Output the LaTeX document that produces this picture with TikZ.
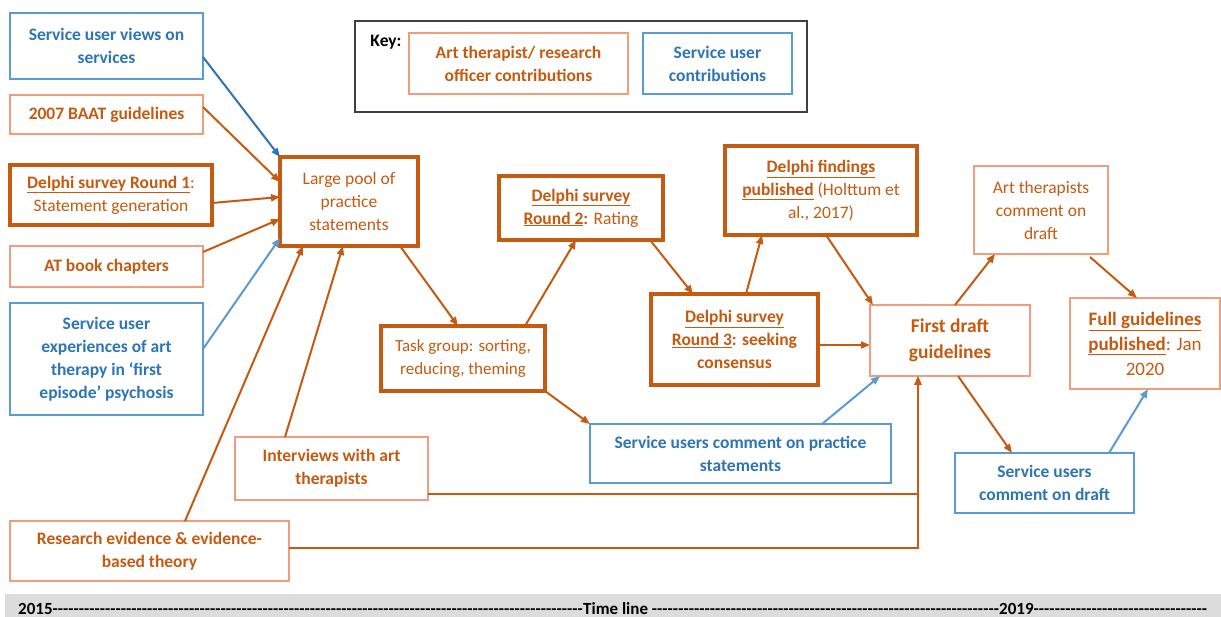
\documentclass[tikz,border=0pt]{standalone}
\usepackage{fontspec}
\setmainfont{Carlito}
\usetikzlibrary{arrows.meta,calc}
\definecolor{orn}{HTML}{C55A11}
\definecolor{ornl}{HTML}{EE9E7C}
\definecolor{blu}{HTML}{2E75B6}
\definecolor{blul}{HTML}{5B9BD5}
\definecolor{keygray}{HTML}{404040}
\definecolor{barbg}{HTML}{DCDCDC}
\tikzset{
 base/.style={align=center, inner sep=0pt, outer sep=0pt, font=\fontsize{17.5}{23}\selectfont},
 obox/.style={base, draw=ornl, line width=1.3pt, text=orn},
 oboxb/.style={obox, font=\fontsize{17.5}{23}\selectfont\bfseries},
 tbox/.style={base, draw=orn, line width=3.2pt, text=orn},
 bbox/.style={base, draw=blul, line width=1.3pt, text=blu, font=\fontsize{17.5}{23}\selectfont\bfseries},
 oarr/.style={draw=orn, line width=2pt, -{Triangle[length=9pt,width=7pt]}},
 barr/.style={draw=blul, line width=2pt, -{Triangle[length=9pt,width=7pt]}},
 darr/.style={draw=blu, line width=2pt, -{Triangle[length=9pt,width=7pt]}},
 tl/.style={anchor=base west, inner sep=0pt, font=\fontsize{17}{18}\selectfont\bfseries, text=black},
}
\newcommand\bx[7]{%
 \pgfmathsetmacro\bxcx{(#2+#4)/2}\pgfmathsetmacro\bxcy{(#3+#5)/2}%
 \pgfmathsetmacro\bxw{#4-#2}\pgfmathsetmacro\bxh{#5-#3}%
 \node[#6, minimum width=\bxw pt, minimum height=\bxh pt] (#1) at (\bxcx,\bxcy) {#7};}
\newcommand\dashfill{\xleaders\hbox{-}\hfill}
\begin{document}
\begin{tikzpicture}[x=1pt,y=-1pt]
\fill[white] (0,0) rectangle (1221,617);
\path[use as bounding box] (0,0) rectangle (1221,617);
% key
\bx{key}{355}{21}{807}{112}{base, draw=keygray, line width=1.3pt}{}
\node[font=\fontsize{17.5}{20}\selectfont\bfseries, text=black, inner sep=0pt] (keylbl) at (386,42) {Key:};
\bx{keyo}{409}{33}{628}{94}{oboxb}{Art therapist/ research\\officer contributions}
\bx{keyb}{643}{33}{792}{94}{bbox}{Service user\\contributions}
% left column
\bx{suv}{10}{13}{203}{79}{bbox}{Service user views on\\services}
\bx{baat}{10}{95}{203}{134}{oboxb}{2007 BAAT guidelines}
\bx{r1}{10}{165}{212}{225}{tbox}{\textbf{\underline{Delphi survey Round 1}}:\\Statement generation}
\bx{atb}{10}{246}{203}{287}{oboxb}{AT book chapters}
\bx{sue}{10}{303}{203}{415}{bbox}{Service user\\experiences of art\\therapy in ‘first\\episode’ psychosis}
\bx{int}{235}{437}{428}{500}{oboxb}{Interviews with art\\therapists}
\bx{res}{10}{521}{289}{581}{oboxb}{Research evidence \& evidence-\\based theory}
% middle
\bx{pool}{280}{157}{418}{246}{tbox}{Large pool of\\practice\\statements}
\bx{task}{381}{326}{545}{391}{tbox, font=\fontsize{17}{23}\selectfont}{Task group: sorting,\\reducing, theming}
\bx{r2}{499}{176}{663}{240}{tbox}{\textbf{\underline{Delphi survey}}\\\textbf{\underline{Round 2}:} Rating}
\bx{r3}{651}{294}{818}{385}{tbox}{\textbf{\underline{Delphi survey}}\\\textbf{\underline{Round 3}: seeking}\\\textbf{consensus}}
\bx{df}{725}{146}{917}{235}{tbox}{\textbf{\underline{Delphi findings}}\\\textbf{\underline{published}} (Holttum et\\al., 2017)}
\bx{sucp}{590}{424}{891}{483}{bbox}{Service users comment on practice\\statements}
% right
\bx{fd}{870}{305}{1030}{376}{oboxb, font=\fontsize{19.5}{26}\selectfont\bfseries}{First draft\\guidelines}
\bx{atc}{974}{166}{1108}{254}{obox}{Art therapists\\comment on\\draft}
\bx{fg}{1070}{298}{1220}{389}{obox, font=\fontsize{19}{25}\selectfont}{\textbf{\underline{Full guidelines}}\\\textbf{\underline{published}}: Jan\\2020}
\bx{sucd}{955}{453}{1134}{513}{bbox}{Service users\\comment on draft}
% arrows into pool
\draw[darr] ($(suv.north east)+(0,44)$) -- (pool.north west);
\draw[oarr] ($(baat.north east)+(0,12)$) -- ($(pool.north west)+(0,25)$);
\draw[oarr] ($(r1.north east)+(0,38)$) -- ($(pool.north west)+(0,40)$);
\draw[oarr] ($(atb.north east)+(0,6)$) -- ($(pool.north west)+(0,62)$);
\draw[barr] ($(sue.north east)+(0,46)$) -- ($(pool.south west)+(0,-8)$);
\draw[oarr] ($(res.north west)+(175,0)$) -- ($(pool.south west)+(23,0)$);
\draw[oarr] ($(int.north west)+(50,0)$) -- ($(pool.south west)+(63,0)$);
% flow
\draw[oarr] ($(pool.south west)+(120,0)$) -- ($(task.north west)+(77,0)$);
\draw[oarr] ($(task.north west)+(144,0)$) -- ($(r2.south west)+(77,0)$);
\draw[oarr] ($(r2.south west)+(151,0)$) -- ($(r3.north west)+(42,0)$);
\draw[oarr] ($(r3.north west)+(95,0)$) -- ($(df.south west)+(37,0)$);
\draw[oarr] ($(df.south west)+(101,0)$) -- ($(fd.north west)+(3,0)$);
\draw[oarr] ($(r3.north east)+(0,51)$) -- ($(fd.north west)+(0,40)$);
\draw[oarr] (task.south east) -- (sucp.north west);
\draw[barr] ($(sucp.north west)+(232,0)$) -- ($(fd.south west)+(10,0)$);
\draw[oarr] ($(res.north east)+(0,27)$) -| ($(fd.south west)+(48,0)$);
\draw[oarr] ($(int.north east)+(0,57)$) -| ($(fd.south west)+(48,0)$);
\draw[oarr] ($(fd.north west)+(85,0)$) -- ($(atc.south west)+(21,0)$);
\draw[oarr] ($(atc.south west)+(116,3)$) -- ($(fg.north west)+(67,0)$);
\draw[oarr] ($(fd.south west)+(88,0)$) -- ($(sucd.north west)+(57,0)$);
\draw[barr] ($(sucd.north west)+(154,0)$) -- ($(fg.south west)+(78,0)$);
% timeline
\fill[barbg] (5,594) rectangle (1221,617);
\node[tl] (t2015) at (18,614) {\hbox to 565pt{2015\dashfill}};
\node[tl] (ttime) at (583,614) {\hbox to 416pt{Time line \dashfill}};
\node[tl] (t2019) at (999,614) {\hbox to 208pt{2019\dashfill}};
\end{tikzpicture}
\end{document}
